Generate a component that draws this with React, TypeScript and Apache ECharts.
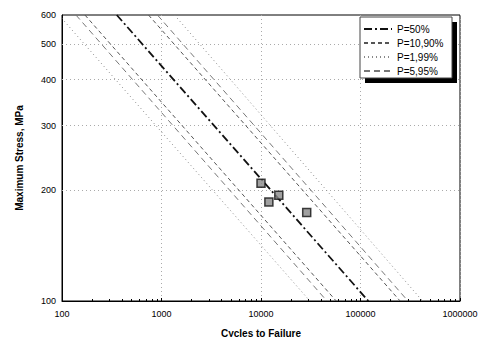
import React, { useEffect, useRef } from "react";
import * as echarts from "echarts";

// Stress levels (MPa) at which each design line's end points were read
const stressEnds = [600, 100];
// Cycles to failure at S=600 and S=100 for each probability line
const p50 = [355, 120000];
const p10 = [170, 57000];
const p90 = [740, 250000];
const p5 = [138, 46000];
const p95 = [910, 300000];
const p1 = [93, 31000];
const p99 = [1350, 420000];
// Test points [cycles, stress]
const testCycles = [10000, 15100, 12000, 28800];
const testStress = [209, 194, 186, 174];
// Y tick labels
const yTicks = [100, 200, 300, 400, 500, 600];
const yGrid = [200, 300, 400, 500];

const legendNames = ["P=50%", "P=10,90%", "P=1,99%", "P=5,95%"];

const font = "Liberation Sans, Arial, sans-serif";

function pts(n: number[]) {
  return n.map((v, i) => [v, stressEnds[i]]);
}

export default function App() {
  const ref = useRef<HTMLDivElement>(null);
  useEffect(() => {
    if (!ref.current) return;
    const chart = echarts.init(ref.current, null, { renderer: "svg" });
    const lineSeries = (name: string, data: number[], color: string, width: number, type: any) => ({
      name,
      type: "line",
      data: pts(data),
      symbol: "none",
      showSymbol: false,
      clip: true,
      lineStyle: { color, width, type },
      itemStyle: { color },
      z: 3,
    });
    const s50 = { c: "#111", w: 1.8, t: [8, 3, 2, 3] };
    const s10 = { c: "#555", w: 1, t: [4, 3] };
    const s1 = { c: "#888", w: 1, t: [1, 3] };
    const s5 = { c: "#777", w: 1, t: [6, 4] };
    chart.setOption({
      animation: false,
      backgroundColor: "#fff",
      textStyle: { fontFamily: font },
      grid: { left: 62, right: 26, top: 15, bottom: 44, show: true, borderColor: "#000", borderWidth: 1 },
      xAxis: {
        type: "log",
        logBase: 10,
        min: 100,
        max: 1000000,
        name: "Cycles to Failure",
        nameLocation: "middle",
        nameGap: 27,
        nameTextStyle: { fontFamily: font, fontSize: 10, fontWeight: "bold", color: "#000" },
        axisLine: { lineStyle: { color: "#000" } },
        axisTick: { show: true, inside: true, length: 3, lineStyle: { color: "#000" } },
        minorTick: { show: true, splitNumber: 9, length: 2, lineStyle: { color: "#000" } },
        axisLabel: { fontFamily: font, fontSize: 9, color: "#000", margin: 8, formatter: (v: number) => String(Math.round(v)) },
        splitLine: { show: true, lineStyle: { color: "#aaa", type: [1, 3] } },
      },
      yAxis: {
        type: "log",
        logBase: 10,
        min: 100,
        max: 600,
        name: "Maximum Stress, MPa",
        nameLocation: "middle",
        nameGap: 38,
        nameTextStyle: { fontFamily: font, fontSize: 10, fontWeight: "bold", color: "#000" },
        axisLine: { show: true, lineStyle: { color: "#000" } },
        axisTick: { show: false },
        axisLabel: { show: false },
        splitLine: { show: false },
      },
      legend: {
        data: legendNames,
        orient: "vertical",
        left: 363,
        top: 24,
        padding: 0,
        itemWidth: 28,
        itemHeight: 10,
        itemGap: 4,
        z: 10,
        itemStyle: { opacity: 0 },
        textStyle: { fontFamily: font, fontSize: 10, color: "#000" },
        selectedMode: false,
      },
      graphic: [
        { type: "rect", shape: { x: 365, y: 22, width: 92, height: 61 }, style: { fill: "#000" }, z: 5 },
        { type: "rect", shape: { x: 360, y: 17, width: 92, height: 61 }, style: { fill: "#fff", stroke: "#444", lineWidth: 1 }, z: 6 },
      ],
      series: [
        lineSeries("P=50%", p50, s50.c, s50.w, s50.t),
        lineSeries("P=10,90%", p10, s10.c, s10.w, s10.t),
        lineSeries("P=10,90%", p90, s10.c, s10.w, s10.t),
        lineSeries("P=1,99%", p1, s1.c, s1.w, s1.t),
        lineSeries("P=1,99%", p99, s1.c, s1.w, s1.t),
        lineSeries("P=5,95%", p5, s5.c, s5.w, s5.t),
        lineSeries("P=5,95%", p95, s5.c, s5.w, s5.t),
        {
          name: "Test",
          type: "scatter",
          data: testCycles.map((c, i) => [c, testStress[i]]),
          symbol: "rect",
          symbolSize: 8,
          itemStyle: { color: "#888", borderColor: "#111", borderWidth: 1.5 },
          z: 4,
          markLine: {
            silent: true,
            symbol: "none",
            animation: false,
            data: yTicks.map((v) => ({
              yAxis: v,
              lineStyle: {
                color: yGrid.indexOf(v) >= 0 ? "#aaa" : "rgba(0,0,0,0)",
                type: [1, 3],
                width: 1,
              },
            })),
            label: {
              show: true,
              position: "start",
              distance: 6,
              formatter: (p: any) => String(p.value),
              fontFamily: font,
              fontSize: 9,
              color: "#000",
            },
            z: 1,
          },
        },
      ],
    });
    return () => chart.dispose();
  }, []);
  return <div ref={ref} style={{ width: 486, height: 345, margin: -8 }} />;
}
